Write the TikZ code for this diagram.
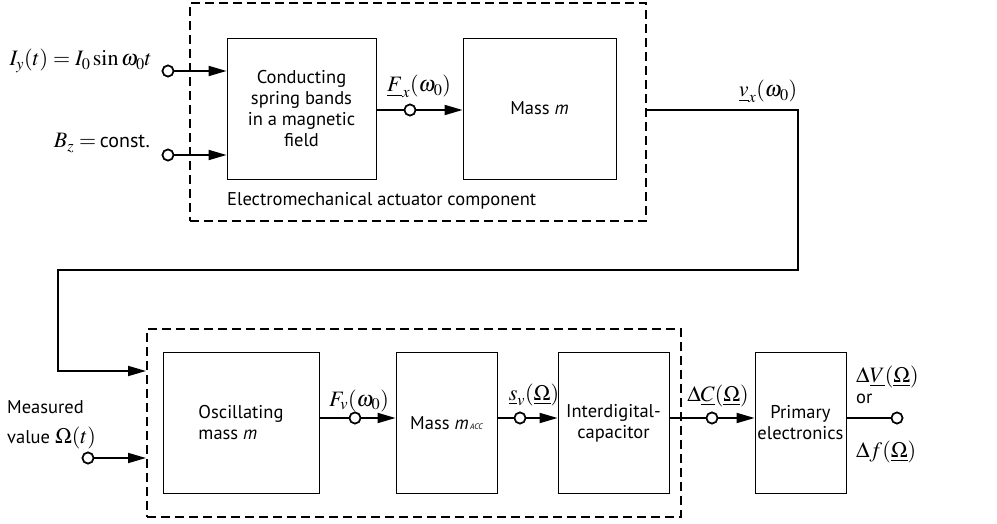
\documentclass[tikz,border=0pt]{standalone}
\usepackage{mathptmx}
\usepackage[no-math]{fontspec}
\setmainfont{Liberation Serif}
\setsansfont{PT Sans}
\usetikzlibrary{arrows.meta}
\begin{document}
\begin{tikzpicture}[x=1pt,y=-1pt,
  blk/.style={draw, line width=0.9pt, inner sep=0pt, font=\sffamily\fontsize{18.5}{21}\selectfont, align=center},
  dbox/.style={draw, line width=2pt, dash pattern=on 9pt off 5pt, inner sep=0pt},
  term/.style={circle, draw, line width=1.6pt, fill=white, minimum size=11pt, inner sep=0pt},
  sig/.style={line width=1.8pt},
  arr/.style={line width=1.8pt, line join=miter, -{Triangle[length=18pt,width=10pt]}},
  lbl/.style={font=\fontsize{22}{26}\selectfont, inner sep=0pt},
  txt/.style={font=\sffamily\fontsize{18.5}{21}\selectfont, inner sep=0pt, align=left}]
\useasboundingbox (0,0) rectangle (997,524);

% top group
\node[dbox, minimum width=456pt, minimum height=218pt] (topd) at (418,112) {};
\node[blk, minimum width=149pt, minimum height=141pt] (cond) at (301.5,108.5) {Conducting\\spring bands\\in a magnetic\\field};
\node[blk, minimum width=153pt, minimum height=141pt] (mass) at (539.5,108.5) {Mass \textit{m}};
\node[term] (tI) at (168,71) {};
\node[term] (tB) at (168,155) {};
\node[term] (tF) at (410,110) {};
\coordinate (vout) at (topd.east |- tF);
\coordinate (c1) at (798,110);
\coordinate (c2) at (798,270);
\coordinate (c3) at (58,270);
\coordinate (c4) at (58,371);

% bottom group
\node[dbox, minimum width=534pt, minimum height=188pt] (botd) at (414,423) {};
\node[blk, minimum width=156pt, minimum height=141pt, align=left] (osc) at (241,423) {Oscillating\\mass \textit{m}};
\node[blk, minimum width=101pt, minimum height=141pt] (macc) at (446.5,423) {Mass \textit{m}{\fontsize{8}{9}\selectfont\itshape\,ACC}};
\node[blk, minimum width=111pt, minimum height=141pt] (idc) at (613.5,423) {Interdigital-\\capacitor};
\node[blk, minimum width=91pt, minimum height=141pt] (prim) at (800.5,423) {Primary\\electronics};
\node[term] (tFv) at (355,418) {};
\node[term] (tsv) at (520,418) {};
\node[term] (tC) at (712,418) {};
\node[term] (tout) at (897,418) {};
\node[term] (tM) at (88,458) {};

% connectors top
\draw[arr] (tI) -- (cond.west |- tI);
\draw[arr] (tB) -- (cond.west |- tB);
\draw[sig] (cond.east |- tF) -- (tF);
\draw[arr] (tF) -- (mass.west |- tF);
\draw[arr] (vout) -- (c1) -- (c2) -- (c3) -- (c4) -- (botd.west |- c4);

% connectors bottom
\draw[arr] (tM) -- (botd.west |- tM);
\draw[sig] (osc.east |- tFv) -- (tFv);
\draw[arr] (tFv) -- (macc.west |- tFv);
\draw[sig] (macc.east |- tsv) -- (tsv);
\draw[arr] (tsv) -- (idc.west |- tsv);
\draw[sig] (idc.east |- tC) -- (tC);
\draw[arr] (tC) -- (prim.west |- tC);
\draw[sig] (prim.east |- tout) -- (tout);

% redraw terminals on top
\foreach \t in {tI,tB,tF,tFv,tsv,tC,tout,tM}{\draw[line width=1.6pt, fill=white] (\t) circle (5.5pt);}

% labels
\node[lbl, anchor=base east] (lI) at (152,66) {$I_y(t) = I_0\,\mathrm{sin}\,\omega_0 t$};
\node[lbl, anchor=base east] (lB) at (150,148) {$B_z=$\,{\sffamily\fontsize{20}{24}\selectfont const.}};
\node[lbl, anchor=base] (lF) at (419,92) {$\underline{F}_x(\omega_0)$};
\node[txt, anchor=base west] (lEm) at (227,206) {Electromechanical actuator component};
\node[lbl, anchor=base] (lv) at (768,97) {$\underline{v}_x(\omega_0)$};
\node[txt, anchor=base west] (lM) at (7,413) {Measured};
\node[txt, anchor=base west] (lMv) at (7,443) {value {\fontsize{22}{26}\selectfont$\Omega(t)$}};
\node[lbl, anchor=base] (lFv) at (359,406) {$F_v(\omega_0)$};
\node[lbl, anchor=base] (ls) at (534,400) {$\underline{s}_v(\underline{\Omega})$};
\node[lbl, anchor=base] (lC) at (718,401) {$\Delta\underline{C}(\underline{\Omega})$};
\node[lbl, anchor=base west] (lV) at (856,382) {$\Delta\underline{V}(\underline{\Omega})$};
\node[txt, anchor=base west] (lor) at (856,403) {or};
\node[lbl, anchor=base west] (lf) at (856,457) {$\Delta f(\underline{\Omega})$};
\end{tikzpicture}
\end{document}
